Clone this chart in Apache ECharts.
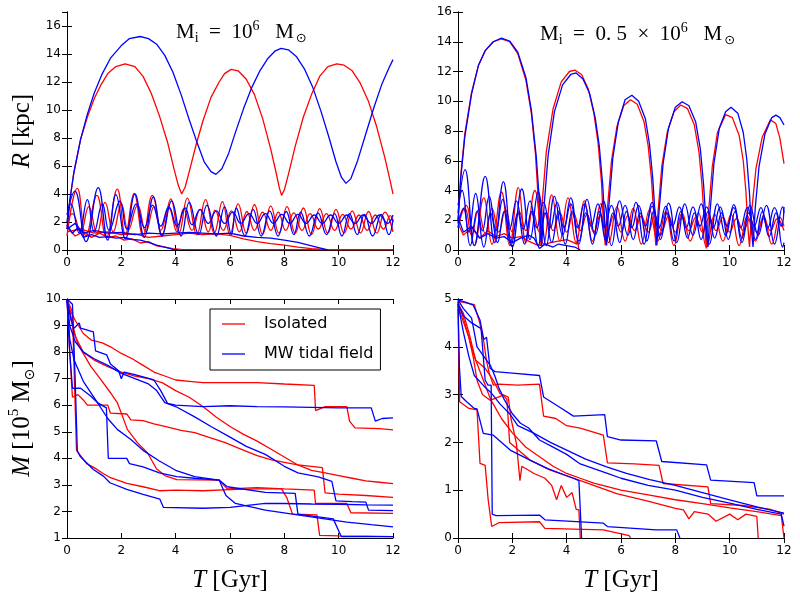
<!DOCTYPE html>
<html>
<head>
<meta charset="utf-8">
<script src="https://cdn.jsdelivr.net/npm/echarts@6/dist/echarts.min.js"></script>
<style>
  html, body { margin: 0; padding: 0; background: #fff; }
  #chart { width: 800px; height: 600px; }
</style>
</head>
<body>
<div id="chart"></div>
<script>
// ---- data: [T (Gyr), value] pairs ----

// top left: R [kpc], Mi = 1e6
const tlRedBig = [[0,1.5],[0.1,3.5],[0.25,5.5],[0.5,7.9],[0.75,9.5],[1,10.8],[1.25,11.8],[1.5,12.6],[1.8,13.1],[2.14,13.3],[2.5,13.1],[2.8,12.4],[3.1,11.2],[3.4,9.6],[3.7,7.7],[3.95,5.7],[4.1,4.6],[4.22,4.0],[4.35,4.5],[4.5,5.6],[4.75,7.5],[5.0,9.2],[5.3,10.9],[5.6,12.0],[5.8,12.6],[6.04,12.9],[6.3,12.8],[6.6,12.2],[6.9,11.1],[7.2,9.4],[7.5,7.2],[7.7,5.5],[7.82,4.4],[7.9,3.9],[8.0,4.3],[8.15,5.4],[8.4,7.4],[8.7,9.5],[9.0,11.1],[9.3,12.4],[9.6,13.1],[9.93,13.3],[10.2,13.2],[10.5,12.8],[10.8,11.9],[11.1,10.6],[11.4,8.8],[11.7,6.6],[11.9,4.9],[12,4.0]];
const tlBlueBig = [[0,1.5],[0.1,3.5],[0.25,5.5],[0.5,7.9],[0.75,9.7],[1,11.2],[1.3,12.6],[1.6,13.7],[2.0,14.6],[2.3,15.1],[2.69,15.25],[3.0,15.1],[3.3,14.7],[3.6,13.9],[3.9,12.7],[4.2,11.1],[4.5,9.3],[4.8,7.6],[5.05,6.3],[5.3,5.6],[5.48,5.4],[5.7,5.8],[5.95,6.9],[6.2,8.4],[6.5,10.1],[6.8,11.6],[7.1,12.8],[7.4,13.7],[7.65,14.2],[7.88,14.4],[8.15,14.3],[8.45,13.8],[8.75,12.9],[9.05,11.6],[9.35,9.9],[9.65,8.0],[9.9,6.3],[10.1,5.2],[10.27,4.76],[10.45,5.1],[10.7,6.4],[11.0,8.3],[11.3,10.2],[11.6,11.9],[11.85,13.0],[12,13.6]];
const tlRedOscA = [[0,1.0],[0.38,4.4],[0.7,1.0],[1.1,3.9],[1.45,0.9],[1.85,4.35],[2.15,1.1],[2.47,4.05],[2.8,1.0],[3.14,3.9],[3.5,1.1],[3.82,3.65],[4.12,1.2],[4.43,3.7],[4.78,1.1],[5.1,3.6],[5.42,1.2],[5.72,3.45],[6.0,1.1],[6.3,3.3],[6.6,1.2],[6.9,3.25],[7.2,1.1],[7.5,3.15],[7.8,1.2],[8.1,3.1],[8.4,1.2],[8.7,3.0],[9.0,1.1],[9.3,2.95],[9.6,1.2],[9.9,2.9],[10.2,1.2],[10.5,2.8],[10.8,1.2],[11.1,2.75],[11.4,1.2],[11.7,2.7],[12,1.3]];
const tlRedOscB = [[0,2.0],[0.2,2.6],[0.5,1.3],[0.8,3.1],[1.1,1.2],[1.4,3.4],[1.7,1.3],[2.0,3.3],[2.25,1.4],[2.6,3.2],[2.9,1.3],[3.2,3.1],[3.45,1.4],[3.75,3.0],[4.05,1.3],[4.3,2.95],[4.6,1.4],[4.9,2.9],[5.2,1.3],[5.45,2.85],[5.75,1.4],[6.05,2.8],[6.35,1.3],[6.62,2.75],[6.9,1.4],[7.2,2.7],[7.5,1.4],[7.78,2.7],[8.05,1.4],[8.35,2.65],[8.65,1.4],[8.95,2.6],[9.25,1.5],[9.55,2.6],[9.85,1.4],[10.15,2.55],[10.45,1.5],[10.75,2.5],[11.05,1.4],[11.35,2.5],[11.65,1.5],[11.9,2.45],[12,2.0]];
const tlRedDecayA = [[0,1.6],[0.3,1.0],[0.6,1.3],[0.9,0.9],[1.2,1.2],[1.5,0.9],[1.8,1.0],[2.1,0.7],[2.4,0.8],[2.7,0.5],[3.0,0.6],[3.3,0.3],[3.6,0.2],[3.9,0.1],[4.2,0.05],[6,0.03],[9,0.02],[12,0.02]];
const tlRedDecayB = [[0,1.3],[0.5,1.5],[1.0,1.2],[1.5,1.3],[2.0,1.1],[2.5,1.15],[3.0,0.9],[3.5,1.0],[4.0,1.1],[4.5,1.2],[5.0,1.1],[5.5,1.15],[6.0,1.05],[6.5,0.8],[7.0,0.6],[7.5,0.45],[8.0,0.35],[8.5,0.2],[9.0,0.1],[9.5,0.05],[10,0.02],[12,0.02]];
const tlBlueOscA = [[0,2.5],[0.29,4.2],[0.7,0.6],[1.15,4.45],[1.5,0.7],[1.8,3.95],[2.15,0.8],[2.5,4.0],[2.85,0.9],[3.18,3.8],[3.5,1.0],[3.85,3.5],[4.2,1.0],[4.5,3.4],[4.85,1.1],[5.15,3.2],[5.5,1.0],[5.8,3.1],[6.05,1.1],[6.23,3.0],[6.55,1.0],[6.85,2.9],[7.15,1.0],[7.46,2.8],[7.77,1.0],[8.07,2.75],[8.35,1.1],[8.6,2.7],[8.92,1.0],[9.24,2.65],[9.55,1.1],[9.85,2.6],[10.12,1.0],[10.4,2.6],[10.68,1.1],[10.95,2.55],[11.25,1.0],[11.57,2.55],[11.85,1.1],[12,2.2]];
const tlBlueOscB = [[0,2.0],[0.15,3.3],[0.45,1.2],[0.75,3.6],[1.0,1.3],[1.3,3.3],[1.55,1.4],[1.95,3.5],[2.2,1.5],[2.55,3.3],[2.85,1.6],[3.15,3.2],[3.45,1.7],[3.75,3.1],[4.05,1.7],[4.35,3.0],[4.6,1.8],[4.9,2.9],[5.2,1.9],[5.5,2.8],[5.8,1.9],[6.1,2.7],[6.4,1.9],[6.7,2.6],[7.0,1.9],[7.3,2.6],[7.6,1.9],[7.9,2.55],[8.2,1.9],[8.5,2.55],[8.8,1.9],[9.1,2.5],[9.4,1.9],[9.7,2.5],[10.0,1.9],[10.3,2.5],[10.6,1.9],[10.9,2.5],[11.2,1.9],[11.5,2.5],[11.8,1.9],[12,2.5]];
const tlBlueDecayA = [[0,1.8],[0.2,1.2],[0.4,1.6],[0.6,0.9],[0.9,1.1],[1.2,0.9],[1.5,0.95],[1.8,0.85],[2.1,0.9],[2.4,0.75],[2.7,0.7],[3.0,0.55],[3.3,0.35],[3.6,0.2],[3.9,0.05],[4.1,0]];
const tlBlueDecayB = [[0,1.5],[0.3,1.9],[0.6,1.2],[1.0,1.4],[1.5,1.2],[2.0,1.25],[2.5,1.1],[3.0,1.2],[3.5,1.15],[4.0,1.2],[4.5,1.25],[5.0,1.2],[5.5,1.15],[6.0,1.2],[6.5,1.0],[7.0,0.9],[7.5,0.85],[8.0,0.7],[8.5,0.55],[9.0,0.3],[9.3,0.15],[9.6,0]];

// top right: R [kpc], Mi = 0.5e6
const trRedBig = [[0,2.0],[0.1,5.0],[0.25,7.8],[0.5,10.6],[0.75,12.4],[1.0,13.4],[1.3,14.0],[1.6,14.2],[1.9,14.0],[2.2,13.2],[2.5,11.4],[2.7,9.2],[2.85,6.5],[2.95,3.5],[3.02,0.3],[3.1,3.2],[3.25,6.6],[3.5,9.5],[3.8,11.3],[4.1,12.0],[4.3,12.1],[4.55,11.8],[4.8,10.8],[5.0,9.2],[5.15,7.3],[5.28,4.6],[5.36,1.6],[5.42,0.3],[5.5,2.8],[5.65,6.0],[5.85,8.3],[6.1,9.7],[6.35,10.1],[6.6,9.8],[6.85,8.6],[7.0,7.0],[7.12,4.8],[7.22,2.0],[7.28,0.3],[7.36,2.5],[7.5,5.6],[7.7,7.9],[7.95,9.3],[8.2,9.75],[8.45,9.5],[8.7,8.4],[8.87,6.6],[8.98,4.4],[9.08,1.6],[9.14,0.1],[9.22,2.5],[9.36,5.6],[9.55,7.9],[9.85,9.1],[10.1,8.9],[10.35,7.7],[10.5,6.0],[10.6,3.9],[10.68,1.3],[10.73,0.2],[10.82,2.8],[10.97,5.5],[11.2,7.6],[11.5,8.75],[11.7,8.5],[11.85,7.5],[12,5.8]];
const trBlueBig = [[0,1.8],[0.1,4.8],[0.25,7.6],[0.5,10.5],[0.75,12.4],[1.0,13.4],[1.3,14.0],[1.6,14.25],[1.9,14.05],[2.2,13.3],[2.5,11.6],[2.7,9.4],[2.88,6.3],[3.0,3.2],[3.08,0.3],[3.17,3.0],[3.32,6.4],[3.55,9.3],[3.85,11.1],[4.15,11.8],[4.35,11.9],[4.6,11.5],[4.85,10.5],[5.05,8.9],[5.2,7.0],[5.33,4.3],[5.41,1.6],[5.47,0.3],[5.55,2.9],[5.7,6.2],[5.9,8.6],[6.15,10.1],[6.4,10.4],[6.65,10.0],[6.9,8.8],[7.05,7.1],[7.17,4.8],[7.26,2.2],[7.32,0.3],[7.4,2.6],[7.55,5.8],[7.75,8.2],[8.0,9.6],[8.25,9.97],[8.5,9.7],[8.75,8.6],[8.92,6.8],[9.04,4.4],[9.13,1.8],[9.2,0.2],[9.28,2.6],[9.42,5.8],[9.62,8.2],[9.85,9.3],[10.05,9.6],[10.3,9.2],[10.5,7.9],[10.63,6.1],[10.73,3.8],[10.8,1.4],[10.86,0.2],[10.94,2.8],[11.08,5.6],[11.3,7.8],[11.55,8.9],[11.7,9.07],[11.85,8.9],[12,8.4]];
const trRedOscA = [[0,1.5],[0.3,3.0],[0.6,0.3],[0.95,3.5],[1.25,0.4],[1.6,3.9],[1.9,0.3],[2.22,4.2],[2.5,0.5],[2.83,4.0],[3.15,0.4],[3.45,3.7],[3.75,0.6],[4.05,3.5],[4.35,0.5],[4.65,3.3],[4.95,0.6],[5.25,3.1],[5.55,0.5],[5.85,2.9],[6.15,0.6],[6.45,2.8],[6.75,0.4],[7.05,2.7],[7.35,0.6],[7.65,2.6],[7.95,0.3],[8.25,2.5],[8.55,0.6],[8.85,2.5],[9.15,0.2],[9.45,2.4],[9.75,0.6],[10.05,2.4],[10.35,0.3],[10.65,2.3],[10.95,0.6],[11.25,2.3],[11.55,0.4],[11.85,2.2],[12,1.6]];
const trRedOscB = [[0,2.0],[0.25,2.8],[0.5,1.0],[0.75,2.7],[1.0,1.1],[1.25,2.8],[1.5,1.2],[1.75,2.7],[2.0,1.2],[2.25,2.6],[2.5,1.3],[2.75,2.6],[3.0,1.2],[3.25,2.5],[3.5,1.3],[3.75,2.5],[4.0,1.2],[4.25,2.5],[4.5,1.3],[4.75,2.4],[5.0,1.2],[5.25,2.4],[5.5,1.3],[5.75,2.4],[6.0,1.2],[6.25,2.3],[6.5,1.3],[6.75,2.3],[7.0,1.2],[7.25,2.3],[7.5,1.3],[7.75,2.3],[8.0,1.2],[8.25,2.2],[8.5,1.3],[8.75,2.2],[9.0,1.2],[9.25,2.2],[9.5,1.3],[9.75,2.2],[10.0,1.2],[10.25,2.1],[10.5,1.3],[10.75,2.1],[11.0,1.2],[11.25,2.1],[11.5,1.3],[11.75,2.1],[12,1.3]];
const trRedDecay = [[0,1.8],[0.2,1.0],[0.5,1.5],[0.8,0.8],[1.1,1.3],[1.4,0.9],[1.7,1.1],[2.0,0.8],[2.3,0.9],[2.6,0.6],[2.9,0.35],[3.1,0.3],[3.4,0.5],[3.7,0.6],[4.0,0.7],[4.2,0.55],[4.37,0.4],[4.4,0.7],[4.45,0]];
const trBlueOscA = [[0,2.5],[0.26,5.4],[0.6,0.3],[1.0,4.95],[1.35,0.5],[1.67,4.6],[2.0,0.2],[2.35,4.1],[2.65,0.7],[2.95,3.9],[3.25,0.3],[3.55,3.6],[3.85,1.0],[4.15,3.5],[4.45,0.4],[4.75,3.4],[5.05,1.0],[5.35,3.3],[5.65,0.3],[5.95,3.3],[6.25,1.0],[6.55,3.2],[6.85,0.4],[7.15,3.2],[7.45,1.0],[7.75,3.15],[8.05,0.5],[8.35,3.1],[8.65,1.0],[8.95,3.1],[9.25,0.4],[9.55,3.1],[9.85,1.0],[10.15,3.05],[10.45,0.5],[10.75,3.0],[11.05,1.0],[11.35,3.0],[11.65,0.4],[11.95,2.9],[12,2.5]];
const trBlueOscB = [[0,3.0],[0.15,4.0],[0.4,1.2],[0.65,3.8],[0.9,1.3],[1.15,3.6],[1.4,1.3],[1.65,3.4],[1.9,1.4],[2.15,3.3],[2.4,1.4],[2.65,3.3],[2.9,1.5],[3.15,3.2],[3.4,1.5],[3.65,3.2],[3.9,1.5],[4.15,3.1],[4.4,1.5],[4.65,3.1],[4.9,1.6],[5.15,3.1],[5.4,1.5],[5.65,3.0],[5.9,1.6],[6.15,3.0],[6.4,1.5],[6.65,3.0],[6.9,1.6],[7.15,2.95],[7.4,1.5],[7.65,2.95],[7.9,1.6],[8.15,2.9],[8.4,1.5],[8.65,2.9],[8.9,1.6],[9.15,2.9],[9.4,1.5],[9.65,2.9],[9.9,1.6],[10.15,2.85],[10.4,1.5],[10.65,2.85],[10.9,1.6],[11.15,2.85],[11.4,1.5],[11.65,2.85],[11.9,1.6],[12,2.9]];
const trBlueOscC = [[0,1.5],[0.2,2.8],[0.45,0.3],[0.7,2.6],[0.95,0.2],[1.2,2.5],[1.45,0.5],[1.7,2.6],[1.95,0.3],[2.2,2.5],[2.45,0.4],[2.7,2.6],[2.95,0.3],[3.2,2.5],[3.45,0.5],[3.7,2.6],[3.95,0.4],[4.2,2.6],[4.45,0.6],[4.7,2.5],[4.95,0.4],[5.2,2.6],[5.45,0.6],[5.7,2.5],[5.95,0.5],[6.2,2.6],[6.45,0.7],[6.7,2.5],[6.95,0.6],[7.2,2.6],[7.45,0.7],[7.7,2.5],[7.95,0.6],[8.2,2.6],[8.45,0.8],[8.7,2.5],[8.95,0.7],[9.2,2.6],[9.45,0.8],[9.7,2.5],[9.95,0.7],[10.2,2.6],[10.45,0.8],[10.7,2.5],[10.95,0.7],[11.2,2.6],[11.45,0.9],[11.7,2.5],[11.95,0.2],[12,0.5]];
const trBlueDecay = [[0,2.2],[0.2,1.2],[0.5,1.6],[0.8,0.8],[1.1,1.1],[1.4,0.8],[1.7,0.9],[2.0,0.5],[2.3,0.8],[2.6,1.0],[2.8,0.8],[3.0,0.1],[3.2,0.4],[3.5,0.2],[3.7,0.4],[4.0,0.3],[4.3,0.2],[4.5,0]];

// bottom left: M [1e5 Msun], Mi = 1e6
const blRedA = [[0,10],[0.1,9.6],[0.3,9.2],[0.6,8.7],[0.9,8.45],[1.3,8.35],[1.6,8.2],[2.0,7.95],[2.4,7.75],[2.8,7.5],[3.2,7.25],[3.6,7.1],[4.0,6.95],[4.5,6.9],[5,6.85],[6,6.85],[7,6.85],[8,6.8],[9.1,6.75],[9.15,5.8],[9.5,5.95],[10.3,5.95],[10.4,5.4],[10.6,5.15],[11.5,5.12],[12,5.07]];
const blRedB = [[0,10],[0.15,9.3],[0.3,8.6],[0.6,8.0],[1.0,7.7],[1.5,7.45],[2.0,7.25],[2.5,7.1],[3.0,7.0],[3.5,6.85],[4.0,6.55],[4.5,6.3],[5.0,5.95],[5.5,5.55],[6.0,5.2],[6.5,4.9],[7.0,4.65],[7.5,4.35],[8.0,4.05],[8.5,3.75],[9.0,3.55],[9.5,3.45],[10,3.35],[10.5,3.25],[11,3.15],[11.5,3.1],[12,3.05]];
const blRedC = [[0,10],[0.1,8],[0.2,6.3],[0.4,6.4],[0.6,6.2],[0.75,6.0],[1.5,6.0],[1.6,5.7],[2.2,5.67],[2.35,5.45],[2.8,5.42],[3.2,5.3],[3.6,5.2],[4.2,5.05],[4.7,4.97],[5.2,4.8],[5.8,4.6],[6.4,4.35],[7.0,4.1],[7.5,3.95],[8.0,3.85],[8.5,3.75],[9.0,3.7],[9.4,3.65],[9.5,2.7],[10,2.65],[11,2.6],[12,2.53]];
const blRedD = [[0,10],[0.2,9.5],[0.3,6.0],[0.35,4.3],[0.5,4.1],[0.72,3.8],[1.0,3.65],[1.3,3.45],[1.6,3.27],[2.2,3.06],[2.8,2.93],[3.4,2.78],[4,2.8],[5,2.78],[6,2.82],[7,2.85],[7.9,2.85],[8.1,2.5],[8.3,1.9],[9.2,1.87],[9.3,1.1],[10,1.08],[11,1.07],[12,1.05]];
const blRedE = [[0,10],[0.2,9.0],[0.4,8.3],[0.87,7.47],[1.24,6.97],[1.6,6.47],[1.85,6.1],[2.04,5.59],[2.22,5.09],[2.59,4.59],[2.96,4.21],[3.3,3.6],[3.6,3.35],[4.04,3.2],[5.6,3.18],[5.9,2.85],[7,2.9],[8,2.85],[9.1,2.8],[9.15,2.3],[10.3,2.3],[10.45,1.95],[12,1.93]];
const blBlueA = [[0,10],[0.15,9.2],[0.26,8.9],[0.45,9.1],[0.5,8.9],[0.97,8.76],[1.05,8.05],[1.46,7.9],[1.6,7.55],[1.9,7.3],[2.0,7.0],[2.1,7.25],[2.5,7.15],[3.2,6.95],[3.45,6.55],[3.7,6.07],[4.0,6.0],[5,5.95],[6,5.98],[7,5.95],[8,5.94],[9,5.92],[10,5.9],[11.2,5.9],[11.35,5.4],[11.6,5.5],[12,5.52]];
const blBlueB = [[0,10],[0.1,9.0],[0.3,8.4],[0.6,8.0],[1.0,7.75],[1.5,7.5],[2.0,7.2],[2.5,7.0],[3.0,6.8],[3.3,6.55],[3.6,6.1],[4.0,5.95],[4.7,5.56],[5.3,5.2],[6.0,4.8],[6.6,4.45],[7.3,4.15],[8.0,3.7],[8.5,3.45],[9.25,3.3],[9.75,3.13],[9.9,2.4],[10.5,2.37],[11.0,2.35],[11.1,2.05],[12,2.03]];
const blBlueC = [[0,10],[0.1,8.5],[0.26,7.7],[0.6,6.9],[1.12,6.1],[1.5,5.5],[1.85,5.09],[2.34,4.72],[2.83,4.28],[3.4,3.9],[4.0,3.55],[4.7,3.31],[5.6,3.18],[5.85,2.6],[6.2,2.3],[7.3,2.05],[8.3,1.9],[9.3,1.75],[10.3,1.6],[11.2,1.5],[12,1.42]];
const blBlueD = [[0,10],[0.1,8.0],[0.2,6.64],[0.5,6.64],[0.87,6.35],[1.12,6.1],[1.45,5.9],[1.52,4.0],[2.2,4.0],[2.3,3.8],[2.8,3.68],[3.4,3.45],[4.04,3.31],[4.7,3.25],[5.6,3.18],[5.9,2.93],[7.3,2.72],[8.4,2.68],[8.5,1.9],[9.8,1.72],[10.1,1.05],[11,1.05],[12,1.05]];
const blBlueE = [[0,10],[0.2,9.8],[0.3,7],[0.38,4.28],[0.48,4.08],[0.97,3.58],[1.34,3.33],[1.58,3.08],[2.2,2.83],[2.8,2.64],[3.42,2.46],[3.55,2.15],[5,2.12],[6,2.15],[7.3,2.3],[8,2.3],[9,2.28],[10,2.27],[11,2.25],[12,2.24]];

// bottom right: M [1e5 Msun], Mi = 0.5e6
const brRedA = [[0,4.95],[0.3,4.92],[0.6,4.88],[0.8,4.5],[0.95,4.1],[1.05,3.7],[1.15,3.45],[1.3,3.2],[1.5,3.22],[2.2,3.2],[3.0,3.22],[3.15,2.55],[3.6,2.5],[4.0,2.35],[4.5,2.3],[5.35,2.15],[5.5,1.57],[6.5,1.55],[7.4,1.52],[7.55,1.14],[9.2,1.07],[9.3,0.72],[10.5,0.68],[11.5,0.6],[12,0.5]];
const brRedB = [[0,4.9],[0.2,4.7],[0.4,4.3],[0.65,3.72],[1.0,3.55],[1.3,3.3],[1.55,3.02],[1.85,2.95],[1.95,2.5],[2.15,1.98],[2.28,1.2],[2.35,1.5],[2.8,1.35],[3.2,1.25],[3.45,1.1],[3.63,0.8],[3.8,1.1],[4.0,0.85],[4.2,0.95],[4.35,0.6],[4.45,0.59],[4.5,0]];
const brRedC = [[0,4.85],[0.15,4.6],[0.4,4.2],[0.56,3.79],[0.7,3.3],[0.9,3.0],[1.18,2.88],[1.67,2.99],[1.8,2.9],[1.9,2.0],[2.2,1.85],[2.65,1.63],[3.4,1.42],[4.61,1.18],[5.84,0.93],[7.06,0.76],[8.0,0.62],[8.3,0.59],[8.5,0.4],[8.7,0.55],[9.2,0.5],[9.5,0.35],[10,0.5],[10.3,0.38],[10.6,0.5],[11.0,0.45],[11.05,0]];
const brRedD = [[0,4.8],[0.06,2.85],[0.4,2.71],[0.7,2.68],[0.81,1.56],[1.0,1.52],[1.11,0.8],[1.24,0.24],[1.5,0.32],[3.0,0.34],[3.2,0.2],[5.35,0.17],[6.3,0.05],[6.35,0]];
const brRedE = [[0,4.95],[0.2,4.6],[0.4,4.2],[0.6,3.8],[0.8,3.5],[1.0,3.2],[1.2,2.9],[1.4,2.7],[1.6,2.5],[2.0,2.2],[2.5,1.9],[3.0,1.7],[3.5,1.5],[4.0,1.35],[4.5,1.25],[5,1.15],[6,1.0],[7,0.9],[8,0.8],[9,0.72],[10,0.63],[11,0.55],[11.9,0.47],[12,0]];
const brBlueA = [[0,4.98],[0.3,4.93],[0.56,4.87],[0.81,4.56],[0.95,4.15],[1.05,4.2],[1.18,3.55],[1.36,3.48],[2.0,3.45],[3.0,3.4],[3.15,2.95],[3.7,2.75],[4.25,2.55],[5.4,2.58],[5.5,2.12],[6.0,2.05],[7.3,2.03],[7.5,1.6],[9.15,1.53],[9.3,1.21],[10.9,1.16],[11.0,0.88],[12,0.88]];
const brBlueB = [[0,4.9],[0.2,4.65],[0.5,4.5],[0.85,4.38],[1.0,3.3],[1.1,3.2],[1.22,3.2],[1.26,0.5],[1.4,0.47],[3.0,0.48],[3.2,0.38],[5.35,0.31],[5.5,0.24],[7.3,0.17],[8.05,0.17],[8.17,0]];
const brBlueC = [[0,4.95],[0.05,3.6],[0.12,2.96],[0.32,2.85],[0.6,2.71],[0.7,2.7],[0.93,2.19],[1.3,2.15],[1.92,1.84],[2.65,1.63],[3.3,1.45],[4.25,1.25],[4.45,1.2],[4.5,0.6],[4.55,0]];
const brBlueD = [[0,4.9],[0.2,4.3],[0.4,3.8],[0.6,3.4],[1.0,3.15],[1.2,3.05],[1.55,2.8],[1.9,2.6],[2.2,2.35],[2.77,2.2],[3.4,2.0],[4.0,1.84],[4.7,1.65],[5.47,1.49],[6.2,1.35],[7.06,1.22],[8,1.1],[9,0.95],[10,0.8],[11,0.65],[12,0.52]];
const brBlueE = [[0,4.98],[0.2,4.8],[0.5,4.6],[0.7,4.0],[0.95,3.8],[1.2,3.6],[1.35,3.4],[1.5,3.15],[1.7,2.9],[2.0,2.6],[2.3,2.4],[2.6,2.3],[3.0,2.05],[3.5,1.9],[4.0,1.75],[4.5,1.55],[5,1.45],[5.5,1.35],[6,1.25],[7,1.1],[8,1.0],[9,0.85],[10,0.73],[11,0.6],[11.9,0.5],[12,0.25]];

const panelRed = [
  [tlRedBig, tlRedOscA, tlRedOscB, tlRedDecayA, tlRedDecayB],
  [trRedBig, trRedOscA, trRedOscB, trRedDecay],
  [blRedA, blRedB, blRedC, blRedD, blRedE],
  [brRedA, brRedB, brRedC, brRedD, brRedE]
];
const panelBlue = [
  [tlBlueBig, tlBlueOscA, tlBlueOscB, tlBlueDecayA, tlBlueDecayB],
  [trBlueBig, trBlueOscA, trBlueOscB, trBlueOscC, trBlueDecay],
  [blBlueA, blBlueB, blBlueC, blBlueD, blBlueE],
  [brBlueA, brBlueB, brBlueC, brBlueD, brBlueE]
];
// oscillating lines only store their turning points, so draw them rounded
const oscillating = [tlRedOscA, tlRedOscB, tlBlueOscA, tlBlueOscB,
  trRedOscA, trRedOscB, trBlueOscA, trBlueOscB, trBlueOscC];
const yRanges = [[0, 17, 2], [0, 16, 2], [1, 10, 1], [0, 5, 1]];

const RED = '#ff0000', BLUE = '#0000ff';
const grids = [
  { left: 67, top: 12, width: 326, height: 238 },
  { left: 458, top: 12, width: 326, height: 238 },
  { left: 67, top: 299, width: 326, height: 239 },
  { left: 458, top: 299, width: 326, height: 239 }
];

const serif = 'Liberation Serif';
const line = { show: true, lineStyle: { color: '#000', width: 1 } };
const tick = { show: true, inside: true, length: 5, lineStyle: { color: '#000' } };
const lab = { color: '#000', fontSize: 12, fontFamily: 'DejaVu Sans' };

const xAxis = [], yAxis = [];
for (let i = 0; i < 4; i++) {
  xAxis.push({ type: 'value', gridIndex: i, min: 0, max: 12, interval: 2, position: 'bottom',
    axisLine: line, axisTick: tick, splitLine: { show: false },
    axisLabel: Object.assign({ margin: 7 }, lab) });
  const yr = yRanges[i];
  yAxis.push({ type: 'value', gridIndex: i, min: yr[0], max: yr[1], interval: yr[2], position: 'left',
    axisLine: line, axisTick: tick, splitLine: { show: false },
    axisLabel: Object.assign({ margin: 6, showMaxLabel: yr[1] % yr[2] === 0 }, lab) });
}
for (let i = 0; i < 4; i++) {
  xAxis.push({ type: 'value', gridIndex: i, min: 0, max: 12, interval: 2, position: 'top',
    axisLine: line, axisTick: tick, splitLine: { show: false }, axisLabel: { show: false } });
  const yr = yRanges[i];
  yAxis.push({ type: 'value', gridIndex: i, min: yr[0], max: yr[1], interval: yr[2], position: 'right',
    axisLine: line, axisTick: tick, splitLine: { show: false }, axisLabel: { show: false } });
}

// axis titles
const nameRich = {
  it: { fontFamily: serif, fontStyle: 'italic', fontSize: 25, lineHeight: 30, color: '#000' },
  n: { fontFamily: serif, fontSize: 25, lineHeight: 30, color: '#000' },
  sup: { fontFamily: serif, fontSize: 15, lineHeight: 30, verticalAlign: 'top', padding: [0, 0, 12, 0], color: '#000' },
  sub: { fontFamily: 'DejaVu Sans', fontSize: 14, lineHeight: 30, verticalAlign: 'bottom', padding: [8, 0, 0, 0], color: '#000' }
};
function yName(i, text) {
  Object.assign(yAxis[i], { name: text, nameLocation: 'middle', nameGap: 30, nameRotate: 90,
    nameTextStyle: { rich: nameRich } });
}
yName(0, '{it|R}{n| [kpc]}');
yName(2, '{it|M}{n| [10}{sup|5}{n| M}{sub|⊙}{n|]}');
for (const i of [2, 3]) {
  Object.assign(xAxis[i], { name: '{it|T}{n| [Gyr]}', nameLocation: 'middle', nameGap: 27,
    nameTextStyle: { rich: nameRich } });
}

const titleRich = {
  n: { fontFamily: serif, fontSize: 21, fontWeight: 'normal', color: '#000', lineHeight: 26 },
  s: { fontFamily: serif, fontSize: 14, fontWeight: 'normal', color: '#000', lineHeight: 26, verticalAlign: 'bottom', padding: [6, 0, 0, 0] },
  p: { fontFamily: serif, fontSize: 14, fontWeight: 'normal', color: '#000', lineHeight: 26, verticalAlign: 'top', padding: [0, 0, 8, 0] },
  o: { fontFamily: 'DejaVu Sans', fontSize: 13, fontWeight: 'normal', color: '#000', lineHeight: 26, verticalAlign: 'bottom', padding: [7, 0, 0, 2] }
};

const series = [];
function add(data, name, color, gi) {
  series.push({ type: 'line', name: name, data: data, xAxisIndex: gi, yAxisIndex: gi,
    symbol: 'none', showSymbol: false, clip: true, silent: true,
    smooth: oscillating.includes(data) ? 0.45 : false,
    lineStyle: { color: color, width: 1.3 }, itemStyle: { color: color } });
}
for (let g = 0; g < 4; g++) {
  panelRed[g].forEach(d => add(d, 'Isolated', RED, g));
  panelBlue[g].forEach(d => add(d, 'MW tidal field', BLUE, g));
}

const legendIcon = 'path://M0,0 L46,0 L46,2.6 L0,2.6 Z';

const chart = echarts.init(document.getElementById('chart'), null, { renderer: 'canvas' });
chart.setOption({
  backgroundColor: '#fff',
  animation: false,
  textStyle: { fontFamily: 'DejaVu Sans' },
  title: [
    { left: 176, top: 19, padding: 0,
      text: '{n|M}{s|i}{n|  =  10}{p|6}{n|   M}{o|⊙}', textStyle: { rich: titleRich, fontWeight: 'normal' } },
    { left: 540, top: 21, padding: 0,
      text: '{n|M}{s|i}{n|  =  0. 5  ×  10}{p|6}{n|   M}{o|⊙}', textStyle: { rich: titleRich, fontWeight: 'normal' } }
  ],
  legend: {
    data: [{ name: 'Isolated', icon: legendIcon }, { name: 'MW tidal field', icon: legendIcon }],
    orient: 'vertical', left: 210, top: 309,
    padding: [7, 7, 8, 12], itemGap: 14, itemWidth: 23, itemHeight: 14,
    borderColor: '#000', borderWidth: 1, backgroundColor: '#fff', borderRadius: 0,
    textStyle: { fontSize: 16, color: '#000', fontFamily: 'DejaVu Sans', padding: [0, 0, 0, 14] },
    selectedMode: false
  },
  grid: grids,
  xAxis: xAxis,
  yAxis: yAxis,
  series: series
});
</script>
</body>
</html>
